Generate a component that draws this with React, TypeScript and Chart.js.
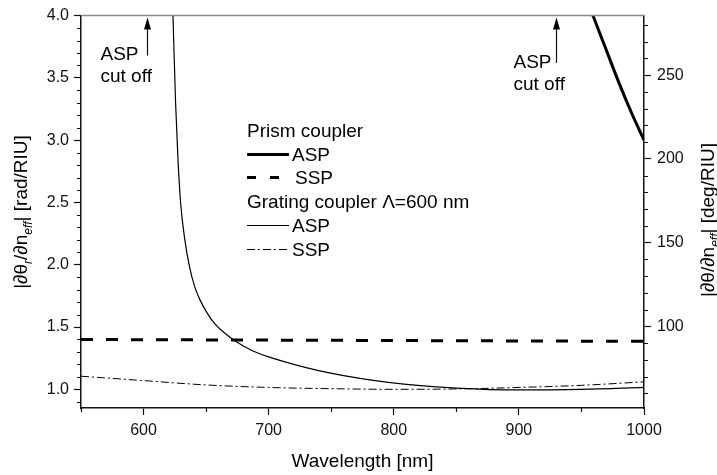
import React, { useEffect, useRef } from 'react';
import { Chart, registerables } from 'chart.js';

Chart.register(...registerables);

// ---------- data ----------
const prismAspX = [955, 960, 970, 980, 990, 1000];
const prismAspY = [4.12, 3.98, 3.72, 3.46, 3.22, 3.0];

const prismSspX = [550, 700, 850, 1000];
const prismSspY = [1.4, 1.395, 1.39, 1.385];

const gratingAspX = [622.5, 623.5, 625.6, 627.5, 629.6, 633, 636.8, 641, 645, 651, 657, 665, 673, 685, 700, 720, 740, 760, 785, 810, 850, 900, 950, 1000];
const gratingAspY = [4.3, 4.0, 3.3, 2.85, 2.5, 2.2, 1.98, 1.82, 1.72, 1.61, 1.525, 1.45, 1.39, 1.32, 1.26, 1.2, 1.15, 1.11, 1.07, 1.04, 1.01, 0.995, 1.0, 1.016];

const gratingSspX = [550, 600, 650, 700, 750, 800, 850, 900, 950, 1000];
const gratingSspY = [1.105, 1.07, 1.035, 1.015, 1.005, 1.0, 1.003, 1.015, 1.032, 1.06];

const xMajorTicks = [600, 700, 800, 900, 1000];
const xMinorTicks = [550, 650, 750, 850, 950];
const yMajorTicks = [1.0, 1.5, 2.0, 2.5, 3.0, 3.5, 4.0];
const yMinorTicks = [0.9, 1.1, 1.2, 1.3, 1.4, 1.6, 1.7, 1.8, 1.9, 2.1, 2.2, 2.3, 2.4, 2.6, 2.7, 2.8, 2.9, 3.1, 3.2, 3.3, 3.4, 3.6, 3.7, 3.8, 3.9];
const y2MajorTicks = [100, 150, 200, 250];
const y2MinorTicks = [60, 70, 80, 90, 110, 120, 130, 140, 160, 170, 180, 190, 210, 220, 230, 240, 260, 270, 280];

const cutoffWavelengths = [603, 930];
const cutoffArrowBottom = [3.68, 3.62];
const cutoffText = ['ASP', 'cut off'];

const legendHeaders = ['Prism coupler', 'Grating coupler \u039B=600 nm'];
const seriesLabels = ['ASP', 'SSP', 'ASP', 'SSP'];

const xTitle = 'Wavelength [nm]';
const leftTitle = [
  { t: '|\u2202\u03B8' }, { t: 'r', sub: true }, { t: '/\u2202n' }, { t: 'eff', sub: true }, { t: '| [rad/RIU]' },
];
const rightTitle = [
  { t: '|\u2202\u03B8/\u2202n' }, { t: 'eff', sub: true }, { t: '| [deg/RIU]' },
];

const FONT = '"Liberation Sans", Arial, Helvetica, sans-serif';

type Seg = { t: string; sub?: boolean };

function drawRich(ctx: CanvasRenderingContext2D, segs: Seg[], size: number, cx: number, cy: number, angle: number) {
  ctx.save();
  ctx.translate(cx, cy);
  ctx.rotate(angle);
  ctx.textBaseline = 'alphabetic';
  ctx.textAlign = 'left';
  const fontFor = (s: Seg) => (s.sub ? `italic ${Math.round(size * 0.65)}px ${FONT}` : `${size}px ${FONT}`);
  const widths = segs.map((s) => {
    ctx.font = fontFor(s);
    return ctx.measureText(s.t).width;
  });
  const total = widths.reduce((a, b) => a + b, 0);
  let x = -total / 2;
  segs.forEach((s, i) => {
    ctx.font = fontFor(s);
    ctx.fillText(s.t, x, s.sub ? 5 : 0);
    x += widths[i];
  });
  ctx.restore();
}

export default function App() {
  const ref = useRef<HTMLCanvasElement>(null);

  useEffect(() => {
    const canvas = ref.current!;
    const pts = (xs: number[], ys: number[]) => xs.map((x, i) => ({ x, y: ys[i] }));

    const overlay = {
      id: 'overlay',
      afterDraw(chart: any) {
        const ctx: CanvasRenderingContext2D = chart.ctx;
        const { left, right, top, bottom } = chart.chartArea;
        const xs = chart.scales.x;
        const ys = chart.scales.y;
        const y2 = chart.scales.y2;
        ctx.save();
        ctx.fillStyle = '#000';

        // top frame line
        ctx.strokeStyle = '#888';
        ctx.lineWidth = 1.5;
        ctx.beginPath();
        ctx.moveTo(left, top);
        ctx.lineTo(right, top);
        ctx.stroke();

        // minor ticks
        ctx.strokeStyle = '#111';
        ctx.lineWidth = 1.2;
        ctx.beginPath();
        xMinorTicks.forEach((v) => {
          const p = Math.round(xs.getPixelForValue(v)) + 0.5;
          ctx.moveTo(p, bottom);
          ctx.lineTo(p, bottom + 4);
        });
        yMinorTicks.forEach((v) => {
          const p = Math.round(ys.getPixelForValue(v)) + 0.5;
          ctx.moveTo(left - 4, p);
          ctx.lineTo(left, p);
        });
        y2MinorTicks.forEach((v) => {
          const p = Math.round(y2.getPixelForValue(v)) + 0.5;
          ctx.moveTo(right, p);
          ctx.lineTo(right + 4, p);
        });
        ctx.stroke();

        // cut-off annotations
        ctx.font = `19px ${FONT}`;
        ctx.textAlign = 'left';
        ctx.textBaseline = 'alphabetic';
        ctx.fillStyle = '#000';
        cutoffWavelengths.forEach((w, i) => {
          const px = Math.round(xs.getPixelForValue(w)) + 0.5;
          const pb = ys.getPixelForValue(cutoffArrowBottom[i]);
          const tip = top + 2;
          ctx.lineWidth = 1.2;
          ctx.beginPath();
          ctx.moveTo(px, pb);
          ctx.lineTo(px, tip + 10);
          ctx.stroke();
          ctx.beginPath();
          ctx.moveTo(px, tip);
          ctx.lineTo(px - 3.5, tip + 12);
          ctx.lineTo(px + 3.5, tip + 12);
          ctx.closePath();
          ctx.fill();
          const tx = px - (i === 0 ? 47 : 43);
          ctx.fillText(cutoffText[0], tx, pb + 5);
          ctx.fillText(cutoffText[1], tx, pb + 27);
        });

        // legend
        const lx0 = left + 166;
        const lx1 = lx0 + 42;
        const ltx = lx1 + 3;
        const rowY0 = 137;
        const rowH = 23.7;
        const rows: any[] = [
          { header: legendHeaders[0] },
          { ds: 0 },
          { ds: 1, dash: [9, 14] },
          { header: legendHeaders[1] },
          { ds: 2 },
          { ds: 3 },
        ];
        rows.forEach((r, i) => {
          const by = rowY0 + i * rowH;
          ctx.font = `19px ${FONT}`;
          ctx.fillStyle = '#000';
          if (r.header) {
            ctx.fillText(r.header, lx0, by);
          } else {
            const d = chart.data.datasets[r.ds];
            const ly = Math.round(by - 7) + 0.5;
            ctx.save();
            ctx.strokeStyle = d.borderColor;
            ctx.lineWidth = d.borderWidth;
            ctx.setLineDash(r.dash || d.borderDash || []);
            ctx.beginPath();
            ctx.moveTo(lx0, ly);
            ctx.lineTo(lx1, ly);
            ctx.stroke();
            ctx.restore();
            ctx.fillText(seriesLabels[r.ds], r.dash ? ltx + 3 : ltx, by);
          }
        });

        // axis titles
        ctx.fillStyle = '#000';
        ctx.font = `19px ${FONT}`;
        ctx.textAlign = 'center';
        ctx.fillText(xTitle, (left + right) / 2, 467);
        drawRich(ctx, leftTitle, 19, 27, 212, -Math.PI / 2);
        drawRich(ctx, rightTitle, 19, 714, 220, -Math.PI / 2);

        ctx.restore();
      },
    };

    const tickFont = { family: FONT, size: 16 };
    const gridOpts = { drawOnChartArea: false, drawTicks: true, tickLength: 7, tickColor: '#111', tickWidth: 1.2 };
    const borderOpts = { color: '#111', width: 1.5 };

    const chart = new Chart(canvas, {
      type: 'line',
      data: {
        datasets: [
          { label: 'Prism ASP', data: pts(prismAspX, prismAspY), borderColor: '#000', borderWidth: 3, pointRadius: 0, cubicInterpolationMode: 'monotone', yAxisID: 'y' },
          { label: 'Prism SSP', data: pts(prismSspX, prismSspY), borderColor: '#000', borderWidth: 3, borderDash: [12, 13], pointRadius: 0, yAxisID: 'y' },
          { label: 'Grating ASP', data: pts(gratingAspX, gratingAspY), borderColor: '#000', borderWidth: 1.2, pointRadius: 0, cubicInterpolationMode: 'monotone', yAxisID: 'y' },
          { label: 'Grating SSP', data: pts(gratingSspX, gratingSspY), borderColor: '#000', borderWidth: 1, borderDash: [8, 3, 2, 3], pointRadius: 0, cubicInterpolationMode: 'monotone', yAxisID: 'y' },
        ] as any,
      },
      options: {
        responsive: false,
        animation: false,
        layout: { padding: { top: 13, left: 0, right: 0, bottom: 0 } },
        plugins: { legend: { display: false }, tooltip: { enabled: false } },
        scales: {
          x: {
            type: 'linear',
            min: 550,
            max: 1000,
            afterBuildTicks: (s: any) => { s.ticks = xMajorTicks.map((v) => ({ value: v })); },
            afterFit: (s: any) => { s.height = 67; },
            grid: gridOpts,
            border: borderOpts,
            ticks: { font: tickFont, color: '#111', padding: 6, maxRotation: 0, autoSkip: false, callback: (v: any) => String(v) },
          },
          y: {
            type: 'linear',
            position: 'left',
            min: 0.85,
            max: 4.0,
            afterBuildTicks: (s: any) => { s.ticks = yMajorTicks.map((v) => ({ value: v })); },
            afterFit: (s: any) => { s.width = 81; },
            grid: gridOpts,
            border: borderOpts,
            ticks: { font: tickFont, color: '#111', padding: 5, autoSkip: false, callback: (v: any) => Number(v).toFixed(1) },
          },
          y2: {
            type: 'linear',
            position: 'right',
            min: 51.2,
            max: 285.6,
            afterBuildTicks: (s: any) => { s.ticks = y2MajorTicks.map((v) => ({ value: v })); },
            afterFit: (s: any) => { s.width = 73; },
            grid: gridOpts,
            border: borderOpts,
            ticks: { font: tickFont, color: '#111', padding: 6, autoSkip: false, callback: (v: any) => String(v) },
          },
        },
      } as any,
      plugins: [overlay],
    });

    return () => chart.destroy();
  }, []);

  return (
    <div style={{ position: 'fixed', left: 0, top: 0, width: 717, height: 475, background: '#fff' }}>
      <canvas ref={ref} width={717} height={475} style={{ display: 'block' }} />
    </div>
  );
}
